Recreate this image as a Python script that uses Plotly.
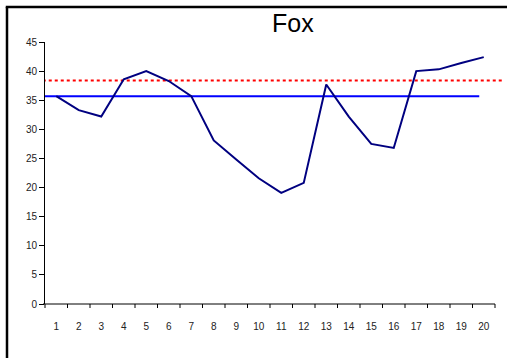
import plotly.graph_objects as go

categories = list(range(1, 21))
fox_values = [35.7, 33.3, 32.2, 38.6, 40.0, 38.3, 35.7, 28.1, 24.8, 21.6,
              19.1, 20.8, 37.7, 32.2, 27.5, 26.8, 40.0, 40.3, 41.4, 42.4]
mean_level = 35.7
upper_level = 38.4
mean_x = [0.4, 19.8]
upper_x = [0.4, 20.8]
y_ticks = list(range(0, 50, 5))

W, H = 507, 358
L, R, T, B = 45, 0, 42, 54
pw = W - L - R
ph = H - T - B
unit = 22.5  # px per category
x0 = 0.5
x1 = 0.5 + pw / unit
axis_end_px = 45 + 20 * unit

def px_to_paper_x(px):
    return (px - L) / pw

def px_to_paper_y(py):
    return (H - B - py) / ph

fig = go.Figure()
fig.add_trace(go.Scatter(x=upper_x, y=[upper_level, upper_level], mode="lines",
                         line=dict(color="#ff0000", width=2, dash="dot"),
                         showlegend=False, hoverinfo="skip"))
fig.add_trace(go.Scatter(x=mean_x, y=[mean_level, mean_level], mode="lines",
                         line=dict(color="#0000ff", width=2),
                         showlegend=False, hoverinfo="skip"))
fig.add_trace(go.Scatter(x=categories, y=fox_values, mode="lines",
                         line=dict(color="#000080", width=2),
                         showlegend=False))

tick_font = dict(family="Liberation Sans, Arial, sans-serif", size=10, color="#222222")

frame = dict(color="black", width=2.5)
fig.update_layout(
    width=W, height=H,
    margin=dict(l=L, r=R, t=T, b=B),
    paper_bgcolor="white", plot_bgcolor="white",
    xaxis=dict(range=[x0, x1], tickvals=categories,
               ticktext=[str(c) for c in categories], ticks="",
               showline=False, showgrid=False, zeroline=False,
               tickfont=tick_font, ticklabelstandoff=15),
    yaxis=dict(range=[0, 45], tickvals=y_ticks, ticks="outside", ticklen=5,
               tickcolor="black", tickwidth=1, showline=True, linecolor="black",
               linewidth=1, showgrid=False, zeroline=False, tickfont=tick_font),
    shapes=[
        # outer frame (top and left edges visible)
        dict(type="line", xref="paper", yref="paper",
             x0=px_to_paper_x(5.75), x1=px_to_paper_x(W),
             y0=px_to_paper_y(7), y1=px_to_paper_y(7), line=frame),
        dict(type="line", xref="paper", yref="paper",
             x0=px_to_paper_x(7), x1=px_to_paper_x(7),
             y0=px_to_paper_y(7), y1=px_to_paper_y(H), line=frame),
        # category axis line
        dict(type="line", xref="paper", yref="paper",
             x0=px_to_paper_x(43), x1=px_to_paper_x(axis_end_px), y0=0, y1=0,
             line=dict(color="black", width=1)),
    ] + [
        # category boundary tick marks
        dict(type="line", xref="paper", yref="paper",
             x0=px_to_paper_x(45 + i * unit), x1=px_to_paper_x(45 + i * unit),
             y0=0, y1=-4 / ph, line=dict(color="black", width=1))
        for i in range(len(categories) + 1)
    ],
    annotations=[dict(text="Fox", xref="paper", yref="paper",
                      x=px_to_paper_x(292.5), y=px_to_paper_y(23),
                      xanchor="center", yanchor="middle", showarrow=False,
                      font=dict(family="Liberation Sans, Arial, sans-serif", size=25, color="black"))],
)

fig.write_html(
    "out.html", config={"displayModeBar": False},
    post_script=("document.documentElement.style.overflow='hidden';"
                 "document.body.style.margin='0';document.body.style.overflow='hidden';"),
)
